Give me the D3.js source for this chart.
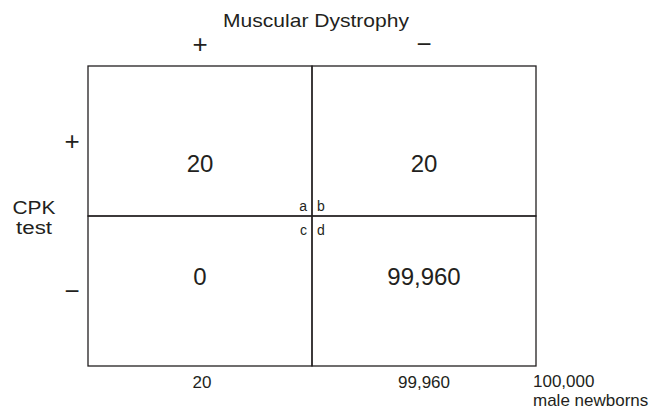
<!DOCTYPE html>
<html lang="en">
<head>
  <meta charset="utf-8">
  <title>CPK test vs Muscular Dystrophy</title>
  <script src="https://cdn.jsdelivr.net/npm/d3@7/dist/d3.min.js"></script>
  <style>
    body { margin: 0; background: #fff; }
    svg text { font-family: Arial, "Liberation Sans", Helvetica, sans-serif; fill: #231f20; }
    .cell { fill: none; stroke: #231f20; stroke-width: 1.3px; }
  </style>
</head>
<body>
<svg id="chart" width="664" height="412"></svg>
<script>
  // data
  const colLabels = ["+", "\u2212"];          // Muscular Dystrophy
  const rowLabels = ["+", "\u2212"];          // CPK test
  const counts = [[20, 20], [0, 99960]];      // rows x cols
  const cellLetters = [["a", "b"], ["c", "d"]];
  const colTotals = [20, 99960];
  const grandTotal = 100000;

  const svg = d3.select("#chart");
  const fmt = d3.format(",");

  // layout of the 2x2 table
  const box = { left: 88, right: 536, top: 66, bottom: 366 };
  const x = d3.scaleBand().domain(d3.range(colLabels.length)).range([box.left, box.right]);
  const y = d3.scaleBand().domain(d3.range(rowLabels.length)).range([box.top, box.bottom]);

  // cells
  const cells = [];
  counts.forEach((row, r) => row.forEach((v, c) => cells.push({ r, c, v, letter: cellLetters[r][c] })));

  svg.append("g").selectAll("rect")
    .data(cells).enter().append("rect")
    .attr("class", "cell")
    .attr("x", d => x(d.c)).attr("y", d => y(d.r))
    .attr("width", x.bandwidth()).attr("height", y.bandwidth());

  // cell values (a bit below centre in the top row, a bit above in the bottom row)
  svg.append("g").selectAll("text")
    .data(cells).enter().append("text")
    .attr("x", d => x(d.c) + x.bandwidth() / 2)
    .attr("y", d => d.r === 0 ? y(d.r) + y.bandwidth() * 0.705 : y(d.r) + y.bandwidth() * 0.46)
    .attr("text-anchor", "middle")
    .style("font-size", "24px")
    .text(d => fmt(d.v));

  // small a b c d letters round the centre cross
  const midX = x(1), midY = y(1);
  svg.append("g").selectAll("text")
    .data(cells).enter().append("text")
    .attr("x", d => d.c === 0 ? midX - 5 : midX + 5)
    .attr("y", d => d.r === 0 ? midY - 5 : midY + 19)
    .attr("text-anchor", d => d.c === 0 ? "end" : "start")
    .style("font-size", "14px")
    .text(d => d.letter);

  // column header
  svg.append("text")
    .attr("x", (box.left + box.right) / 2 + 4).attr("y", 27)
    .attr("text-anchor", "middle")
    .style("font-size", "19px")
    .attr("textLength", 186).attr("lengthAdjust", "spacingAndGlyphs")
    .text("Muscular Dystrophy");

  svg.append("g").selectAll("text")
    .data(colLabels).enter().append("text")
    .attr("x", (d, i) => x(i) + x.bandwidth() / 2)
    .attr("y", 53)
    .attr("text-anchor", "middle")
    .style("font-size", "26px")
    .text(d => d);

  // row header
  svg.append("g").selectAll("text")
    .data(rowLabels).enter().append("text")
    .attr("x", 72)
    .attr("y", (d, i) => y(i) + y.bandwidth() / 2 + 9)
    .attr("text-anchor", "middle")
    .style("font-size", "26px")
    .text(d => d);

  svg.append("text")
    .attr("x", 34).attr("y", 214)
    .attr("text-anchor", "middle")
    .style("font-size", "18px")
    .attr("textLength", 43).attr("lengthAdjust", "spacingAndGlyphs")
    .text("CPK");
  svg.append("text")
    .attr("x", 34).attr("y", 234)
    .attr("text-anchor", "middle")
    .style("font-size", "18px")
    .attr("textLength", 36).attr("lengthAdjust", "spacingAndGlyphs")
    .text("test");

  // column totals underneath
  svg.append("g").selectAll("text")
    .data(colTotals).enter().append("text")
    .attr("x", (d, i) => x(i) + x.bandwidth() / 2 + (i === 0 ? 2 : 0))
    .attr("y", 388)
    .attr("text-anchor", "middle")
    .style("font-size", "17px")
    .text(d => fmt(d));

  svg.append("text")
    .attr("x", box.right - 3).attr("y", 387)
    .style("font-size", "17px")
    .text(fmt(grandTotal));
  svg.append("text")
    .attr("x", box.right - 3).attr("y", 406)
    .style("font-size", "17px")
    .text("male newborns");
</script>
</body>
</html>
